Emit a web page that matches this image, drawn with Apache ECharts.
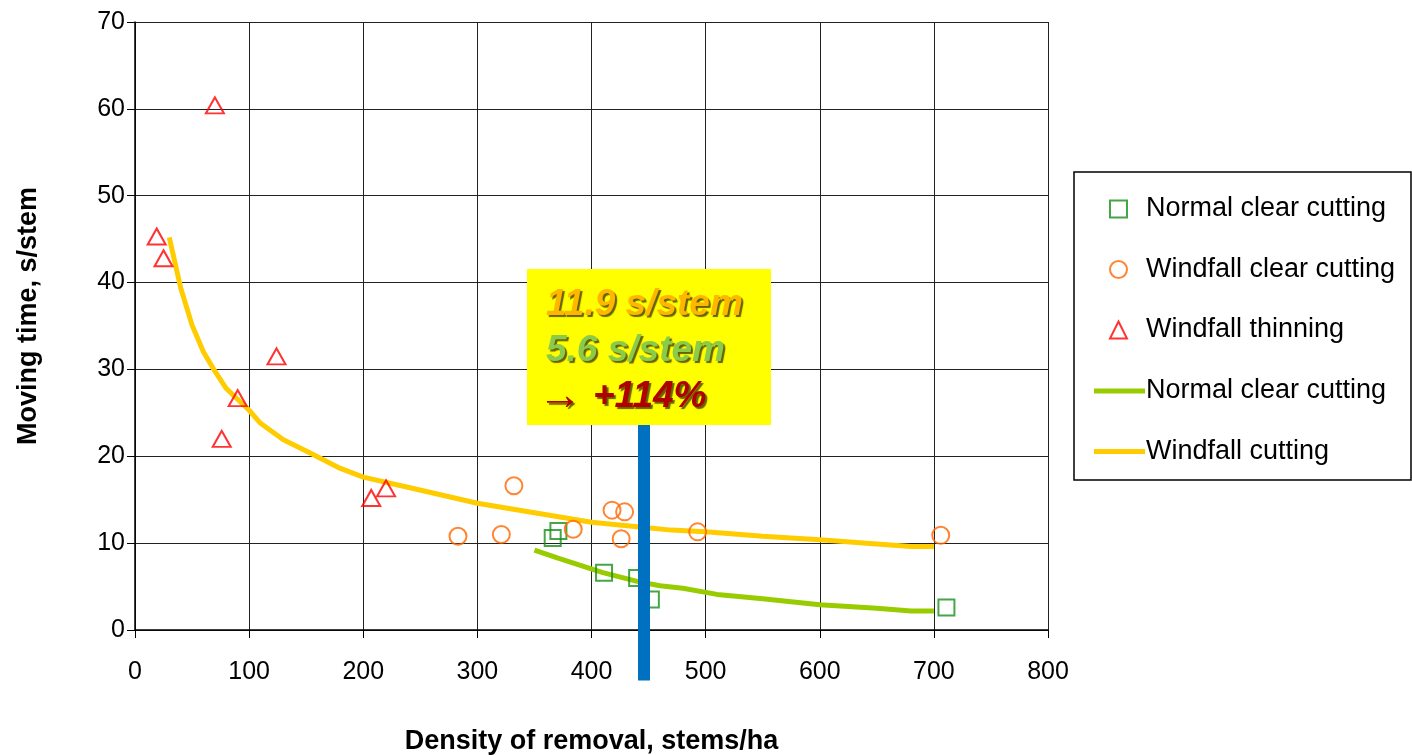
<!DOCTYPE html>
<html>
<head>
<meta charset="utf-8">
<script src="https://cdn.jsdelivr.net/npm/echarts@6/dist/echarts.min.js"></script>
<style>
  html, body { margin: 0; padding: 0; background: #fff; }
  #main { width: 1412px; height: 755px; }
</style>
</head>
<body>
<div id="main"></div>
<script>
// observed points, [stems/ha, s/stem]
const normalClearPts = [[366, 10.6], [371, 11.4], [411, 6.6], [440, 6.0], [452, 3.5], [711, 2.6]];
const windfallClearPts = [[283, 10.8], [321, 11.0], [332, 16.6], [384, 11.6], [418, 13.8], [429, 13.6], [426, 10.5], [493, 11.3], [706, 10.9]];
const windfallThinPts = [[70, 60.4], [19, 45.3], [25, 42.8], [124, 31.5], [90, 26.7], [76, 22.0], [207, 15.2], [220, 16.3]];

// fitted curves
const windfallCurveX = [30, 40, 50, 60, 70, 80, 100, 110, 130, 150, 180, 200, 240, 260, 300, 350, 400, 440, 470, 500, 550, 600, 650, 680, 700];
const windfallCurveY = [45.2, 39.4, 35.1, 32.0, 29.8, 27.8, 25.3, 23.8, 21.9, 20.6, 18.6, 17.6, 16.4, 15.8, 14.6, 13.5, 12.4, 11.9, 11.5, 11.3, 10.8, 10.4, 9.9, 9.6, 9.6];
const normalCurveX = [350, 370, 410, 440, 460, 480, 510, 550, 600, 650, 680, 700];
const normalCurveY = [9.2, 8.3, 6.6, 5.6, 5.1, 4.8, 4.1, 3.6, 2.9, 2.5, 2.2, 2.2];

// marker bar at the compared density
const markerX = 446;
const markerY = [-5.8, 24];

const xTicks = [0, 100, 200, 300, 400, 500, 600, 700, 800];
const yTicks = [0, 10, 20, 30, 40, 50, 60, 70];

const zip = (xs, ys) => xs.map((x, i) => [x, ys[i]]);
const font = 'Arial, "Liberation Sans", sans-serif';

const chart = echarts.init(document.getElementById('main'));

const boxText = { fontSize: 37, fontWeight: 'bold', fontStyle: 'italic', fontFamily: font, lineHeight: 46,
  textShadowColor: 'rgba(40,30,0,0.7)', textShadowOffsetX: 2, textShadowOffsetY: 2, textShadowBlur: 1 };

const option = {
  animation: false,
  backgroundColor: '#fff',
  grid: { left: 135, right: 364, top: 22, bottom: 125, outerBoundsMode: 'none', containLabel: false },
  xAxis: {
    type: 'value', min: xTicks[0], max: xTicks[xTicks.length - 1], interval: 100,
    name: 'Density of removal, stems/ha', nameLocation: 'middle', nameGap: 98,
    nameTextStyle: { fontSize: 27, fontWeight: 'bold', fontFamily: font, color: '#000' },
    axisLine: { lineStyle: { color: '#000', width: 1.5 } },
    axisTick: { show: true, length: 8, lineStyle: { color: '#000' } },
    axisLabel: { fontSize: 25, fontFamily: font, color: '#000', margin: 30 },
    splitLine: { show: true, lineStyle: { color: '#222', width: 1 } }
  },
  yAxis: {
    type: 'value', min: yTicks[0], max: yTicks[yTicks.length - 1], interval: 10,
    name: 'Moving time, s/stem', nameLocation: 'middle', nameGap: 93, nameRotate: 90,
    nameTextStyle: { fontSize: 27, fontWeight: 'bold', fontFamily: font, color: '#000', padding: [0, 0, 0, 20] },
    axisLine: { show: true, lineStyle: { color: '#000', width: 1.5 } },
    axisTick: { show: true, length: 8, lineStyle: { color: '#000' } },
    axisLabel: { fontSize: 25, fontFamily: font, color: '#000', margin: 10 },
    splitLine: { show: true, lineStyle: { color: '#222', width: 1 } }
  },
  legend: [
    {
      orient: 'vertical', left: 1104, top: 189,
      itemWidth: 17, itemHeight: 17, itemGap: 30.5,
      data: ['Normal clear cutting', 'Windfall clear cutting', 'Windfall thinning'],
      textStyle: { fontSize: 27, fontFamily: font, color: '#000', lineHeight: 30, padding: [0, 0, 0, 14] }
    },
    {
      orient: 'vertical', left: 1089, top: 371,
      itemWidth: 51, itemHeight: 5, itemGap: 30.5,
      data: [
        { name: 'Normal clear cutting ', icon: 'rect' },
        { name: 'Windfall cutting', icon: 'rect' }
      ],
      textStyle: { fontSize: 27, fontFamily: font, color: '#000', lineHeight: 30, padding: [0, 0, 0, -4] }
    }
  ],
  series: [
    {
      name: 'Windfall cutting', type: 'line', data: zip(windfallCurveX, windfallCurveY),
      showSymbol: false, symbol: 'none', lineStyle: { color: '#FFCC00', width: 5 },
      itemStyle: { color: '#FFCC00' }, z: 2
    },
    {
      name: 'Normal clear cutting ', type: 'line', data: zip(normalCurveX, normalCurveY),
      showSymbol: false, symbol: 'none', lineStyle: { color: '#99CC00', width: 5 },
      itemStyle: { color: '#99CC00' }, z: 2
    },
    {
      name: 'Normal clear cutting', type: 'scatter', data: normalClearPts,
      symbol: 'rect', symbolSize: 16,
      itemStyle: { color: 'rgba(0,0,0,0)', borderColor: '#17901A', borderWidth: 2 }, z: 3
    },
    {
      name: 'Windfall clear cutting', type: 'scatter', data: windfallClearPts,
      symbol: 'circle', symbolSize: 17,
      itemStyle: { color: 'rgba(0,0,0,0)', borderColor: '#FF6600', borderWidth: 2 }, z: 3
    },
    {
      name: 'Windfall thinning', type: 'scatter', data: windfallThinPts,
      symbol: 'triangle', symbolSize: [18, 16],
      itemStyle: { color: 'rgba(0,0,0,0)', borderColor: '#FF0000', borderWidth: 2 }, z: 3
    },
    {
      name: 'marker', type: 'line', data: markerY.map(y => [markerX, y]),
      symbol: 'none', clip: false, silent: true,
      lineStyle: { color: '#0070C0', width: 12, cap: 'butt' }, z: 5
    }
  ],
  graphic: [
    {
      type: 'rect', z: 100, shape: { x: 527, y: 269, width: 244, height: 156 },
      style: { fill: '#FFFF00' }
    },
    {
      type: 'rect', z: 100, shape: { x: 1074, y: 172, width: 337, height: 308 },
      style: { fill: 'none', stroke: '#000', lineWidth: 1.5 }
    },
    {
      type: 'text', z: 101, x: 546, y: 282,
      style: {
        text: '{a|11.9 s/stem}\n{b|5.6 s/stem}',
        rich: {
          a: Object.assign({}, boxText, { fill: '#FFB600' }),
          b: Object.assign({}, boxText, { fill: '#8ACC4A' })
        }
      }
    },
    {
      type: 'text', z: 101, x: 538, y: 374,
      style: {
        text: '{c|→}{d|+114%}',
        rich: {
          c: Object.assign({}, boxText, { fill: '#B00000', fontSize: 44, fontWeight: 'normal', fontStyle: 'normal', fontFamily: '"Liberation Sans", Arial, sans-serif' }),
          d: Object.assign({}, boxText, { fill: '#B00000', padding: [0, 0, 0, 11] })
        }
      }
    }
  ]
};

chart.setOption(option);
</script>
</body>
</html>
